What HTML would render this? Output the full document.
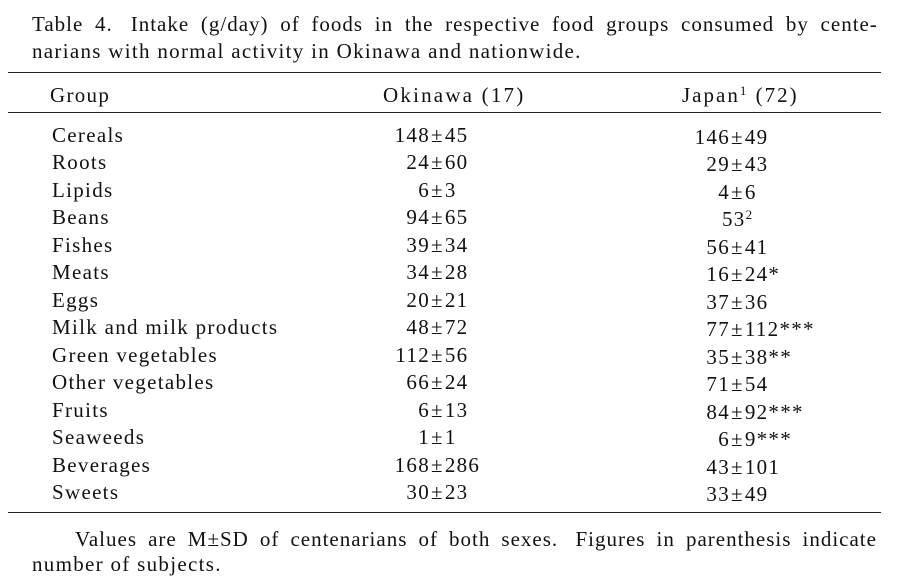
<!DOCTYPE html>
<html><head><meta charset="utf-8"><style>
body{margin:0;width:919px;height:572px;background:#fff;position:relative;overflow:hidden;font-family:"Liberation Serif",serif;font-size:21px;letter-spacing:1.3px;color:#111}
.a{position:absolute;line-height:20px;white-space:nowrap}
.r{position:absolute;left:8px;width:873px;height:1px;background:#222}
.n{position:absolute;line-height:20px;white-space:nowrap;display:flex}
.n .l{width:80px;text-align:right}
.pm{padding:0 1px}
sup{font-size:13px;vertical-align:7px;line-height:0}
</style></head><body>
<div class="a" style="left:32px;top:14px;width:846px;display:flex;justify-content:space-between;letter-spacing:1px"><span>Table</span><span>4.</span><span>&nbsp;Intake</span><span>(g/day)</span><span>of</span><span>foods</span><span>in</span><span>the</span><span>respective</span><span>food</span><span>groups</span><span>consumed</span><span>by</span><span>cente-</span></div>
<div class="a" style="left:32px;top:41px">narians with normal activity in Okinawa and nationwide.</div>
<div class="r" style="top:72px"></div>
<div class="a" style="left:50px;top:85px">Group</div>
<div class="a" style="left:383px;top:85px;letter-spacing:2.2px">Okinawa (17)</div>
<div class="a" style="left:682px;top:85px;letter-spacing:2px">Japan<sup>1</sup> (72)</div>
<div class="r" style="top:112px"></div>
<div id="rows"></div>
<div class="r" style="top:512px"></div>
<div class="a" style="left:75px;top:529px;width:802px;display:flex;justify-content:space-between;letter-spacing:1px"><span>Values</span><span>are</span><span>M±SD</span><span>of</span><span>centenarians</span><span>of</span><span>both</span><span>sexes.</span><span>&nbsp;Figures</span><span>in</span><span>parenthesis</span><span>indicate</span></div>
<div class="a" style="left:32px;top:554px">number of subjects.</div>
<script>
var d=[["Cereals","148","45","146","49"],["Roots","24","60","29","43"],["Lipids","6","3","4","6"],["Beans","94","65","53<sup>2</sup>",""],["Fishes","39","34","56","41"],["Meats","34","28","16","24*"],["Eggs","20","21","37","36"],["Milk and milk products","48","72","77","112***"],["Green vegetables","112","56","35","38**"],["Other vegetables","66","24","71","54"],["Fruits","6","13","84","92***"],["Seaweeds","1","1","6","9***"],["Beverages","168","286","43","101"],["Sweets","30","23","33","49"]];
var h="";
d.forEach(function(r,i){var t=125+i*27.46;
h+='<div class="a" style="left:52px;top:'+t+'px">'+r[0]+'</div>';
h+='<div class="n" style="left:350px;top:'+t+'px"><span class="l">'+r[1]+'</span><span class="pm">±</span><span>'+r[2]+'</span></div>';
if(r[4]) h+='<div class="n" style="left:650px;top:'+(t+2)+'px"><span class="l">'+r[3]+'</span><span class="pm">±</span><span>'+r[4]+'</span></div>';
else h+='<div class="a" style="left:722px;top:'+(t+2)+'px">'+r[3]+'</div>';
});
document.getElementById("rows").innerHTML=h;
</script>
</body></html>
